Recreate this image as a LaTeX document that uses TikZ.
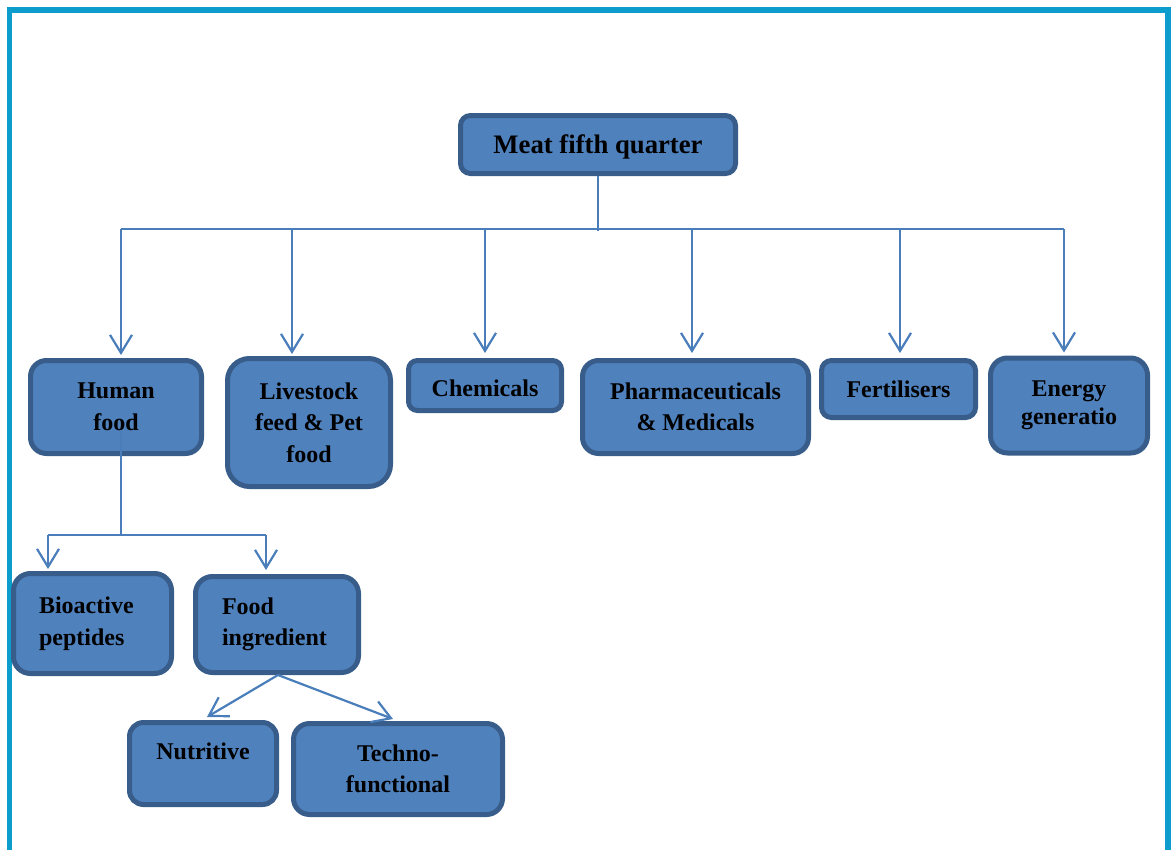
\documentclass[tikz,border=0pt]{standalone}
\usepackage{fontspec}
\setmainfont{Liberation Serif}
\usetikzlibrary{arrows.meta}

\definecolor{boxfill}{HTML}{4F81BD}
\definecolor{boxline}{HTML}{385D8A}
\definecolor{linkcol}{HTML}{4A7EBB}
\definecolor{framecol}{HTML}{0C9DCD}

\tikzset{
  box/.style={draw=boxline, fill=boxfill, line width=5pt, rounded corners=#1,
    align=center, inner sep=0pt, text=black,
    font=\fontsize{24}{31.5}\selectfont\bfseries},
  box/.default=15pt,
  lbox/.style={box=#1, align=left},
  conn/.style={draw=linkcol, line width=2.2pt},
  arr/.style={conn, -{Straight Barb[length=18pt,width=22pt]}},
}

\begin{document}
\begin{tikzpicture}[x=1pt,y=-1pt]
\useasboundingbox (0,0) rectangle (1172,849);

% outer frame (three visible sides)
\draw[framecol, line width=5.5pt] (9.5,860) -- (9.5,10) -- (1168,10) -- (1168,860);

% root
\node[box=10pt, minimum width=275pt, minimum height=58pt, text depth=0pt,
      font=\fontsize{26.7}{32}\selectfont\bfseries] (title) at (598,144.5) {Meat fifth quarter};

% first level
\node[box=16pt, minimum width=171pt, minimum height=93pt]  (human)  at (116,407)   {Human\\food};
\node[box=22pt, minimum width=163pt, minimum height=128pt] (live)   at (309,422.5) {Livestock\\feed \& Pet\\food};
\node[box=9pt,  minimum width=153pt, minimum height=50pt, text height=21pt, text depth=0pt] (chem) at (485,385.5) {Chemicals};
\node[box=16pt, minimum width=226pt, minimum height=93pt]  (pharma) at (695.5,407) {Pharmaceuticals\\\& Medicals};
\node[box=10pt, minimum width=154pt, minimum height=57pt]  (fert)   at (898.5,389) {Fertilisers};
\node[box=17pt, minimum width=157pt, minimum height=95pt,
      font=\fontsize{24}{28}\selectfont\bfseries]           (energy) at (1069,405.5) {Energy\\generatio};

% second level
\node[lbox=17pt, text width=107pt, inner xsep=25.5pt, minimum height=100pt] (bio)  at (92.5,623.5) {Bioactive\\peptides};
\node[lbox=17pt, text width=110pt, inner xsep=26.5pt, minimum height=96pt]  (food) at (277,624.5) {Food\\ingredient};

% third level
\node[box=14pt, minimum width=147pt, minimum height=82pt, text depth=25pt] (nut)  at (203,763.5) {Nutritive};
\node[box=16pt, minimum width=209pt, minimum height=91pt]                  (tech) at (398,769)   {Techno-\\functional};

% main distribution bus
\coordinate (b1) at (121,229);
\coordinate (b2) at (292,229);
\coordinate (b3) at (485,229);
\coordinate (b4) at (692,229);
\coordinate (b5) at (900,229);
\coordinate (b6) at (1064,229);
\draw[conn] (title.south) -- ([yshift=-2pt]title.south |- b1);
\draw[conn] (b1) -- (b6);
\draw[arr, shorten >=3pt] (b1) -- (b1 |- human.north);
\draw[arr, shorten >=2pt] (b2) -- (b2 |- live.north);
\draw[arr, shorten >=5pt] (b3) -- (b3 |- chem.north);
\draw[arr, shorten >=5pt] (b4) -- (b4 |- pharma.north);
\draw[arr, shorten >=5pt] (b5) -- (b5 |- fert.north);
\draw[arr, shorten >=3pt] (b6) -- (b6 |- energy.north);

% human food branch
\coordinate (hstem) at (121,430);
\coordinate (hsplit) at (121,535);
\coordinate (s1) at (48,535);
\coordinate (s2) at (266,535);
\draw[conn] (hstem) -- (hsplit);
\draw[conn] (s1) -- (s2);
\draw[arr, shorten >=2pt] (s1) -- (s1 |- bio.north);
\draw[arr, shorten >=4pt] (s2) -- (s2 |- food.north);

% food ingredient branch
\draw[arr] ([xshift=1pt]food.south) -- ([xshift=4pt,yshift=3pt]nut.north);
\draw[arr] ([xshift=1pt]food.south) -- ([xshift=-5pt,yshift=2pt]tech.north);

\end{tikzpicture}
\end{document}
